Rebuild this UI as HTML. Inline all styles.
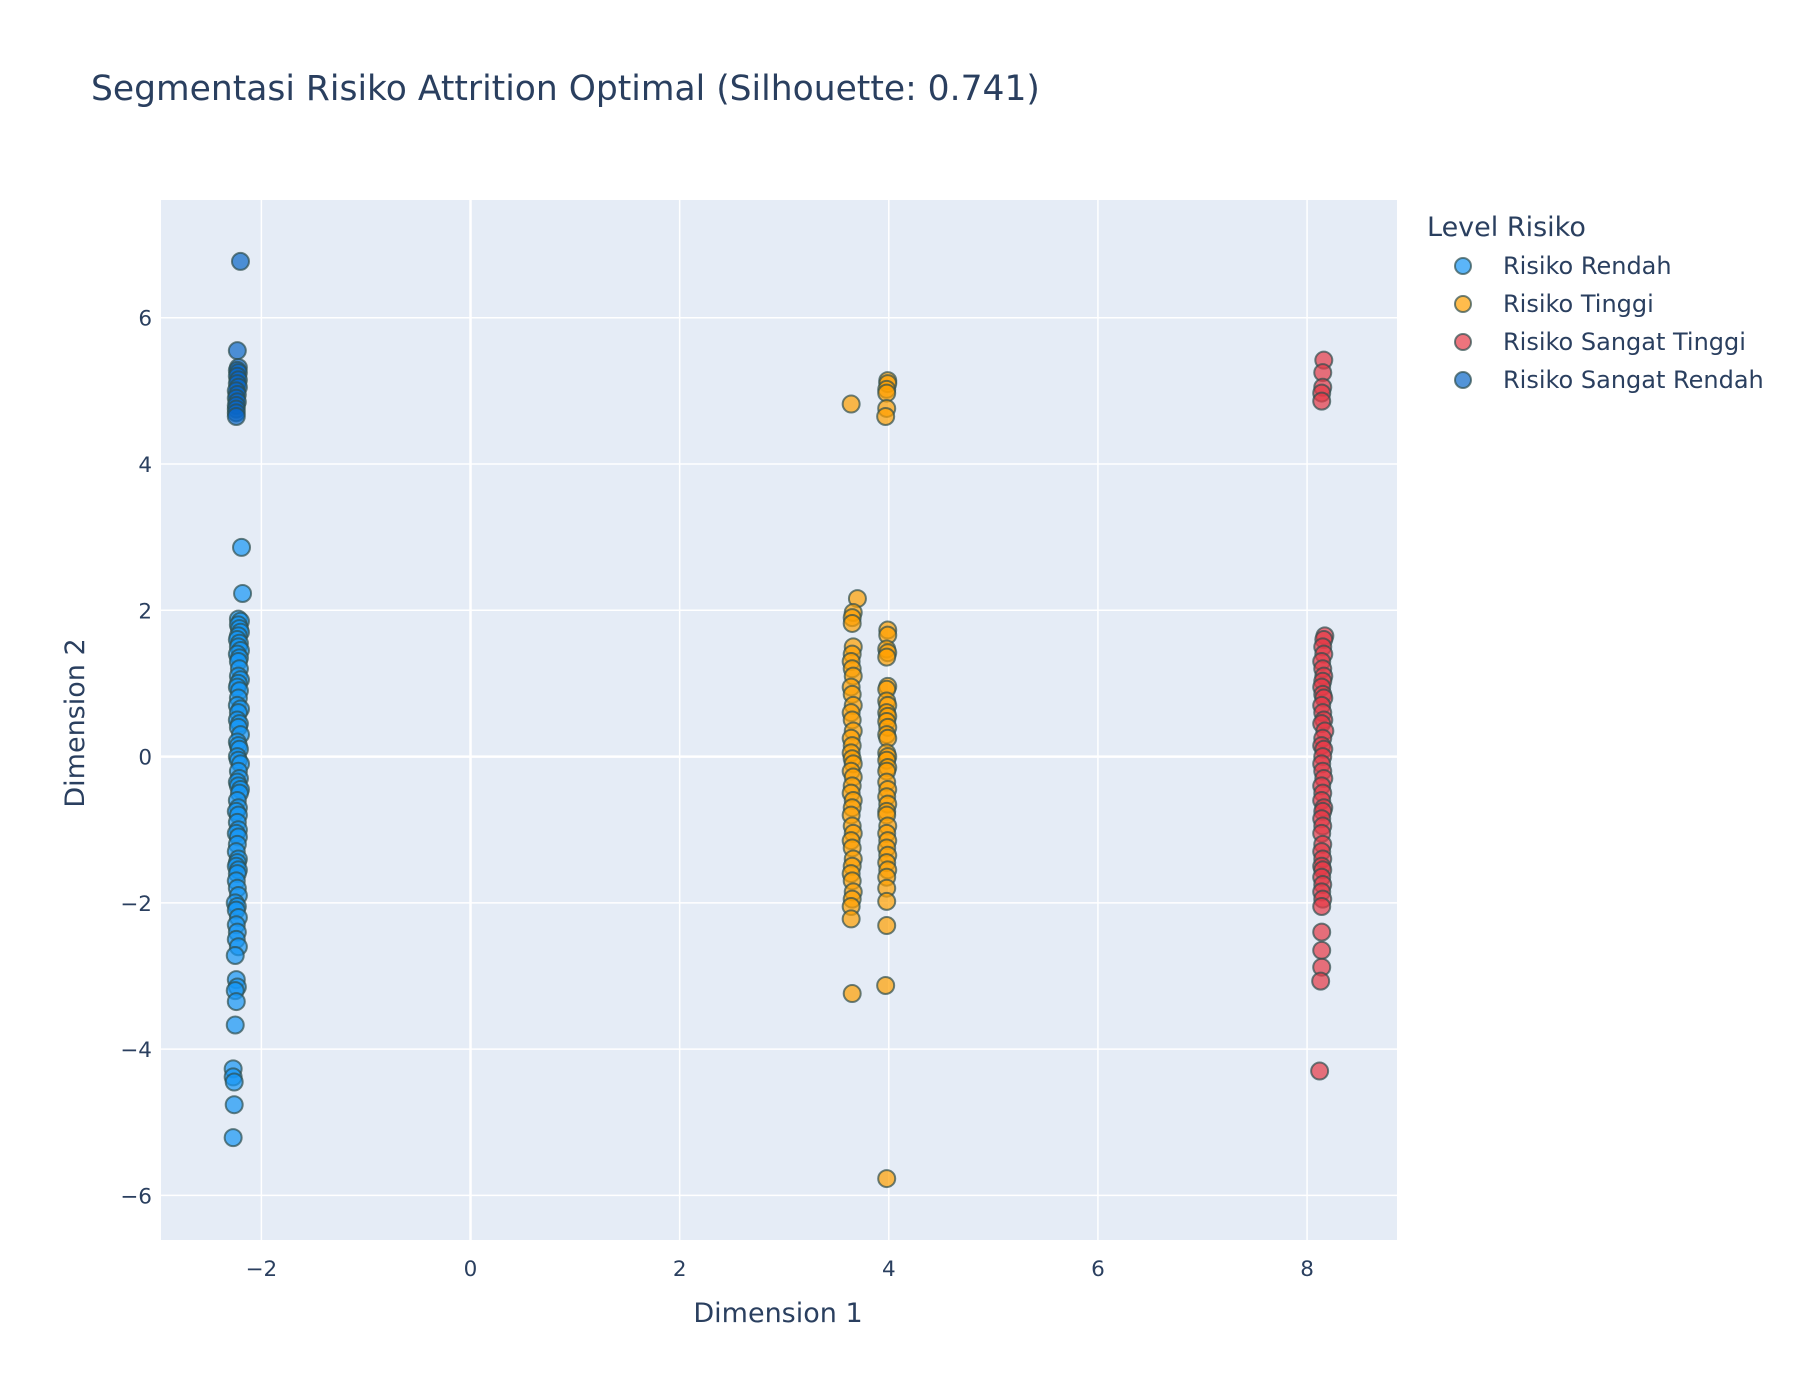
<!DOCTYPE html>
<html><head><meta charset="utf-8"><style>
body{margin:0;background:#fff;}
svg{display:block;font-family:"DejaVu Sans","Liberation Sans",sans-serif;}
</style></head><body>
<svg id="chart" width="1800" height="1400" xmlns="http://www.w3.org/2000/svg">
<rect x="0" y="0" width="1800" height="1400" fill="#fff"/>
<text x="91" y="100" font-size="34.5" fill="#2a3f5f">Segmentasi Risiko Attrition Optimal (Silhouette: 0.741)</text>
<rect x="161" y="200" width="1236" height="1040" fill="#e5ecf6"/>
<g id="grid"></g>
<g id="marks"></g>
<g id="ticks"></g>
<text x="778" y="1322" font-size="27" fill="#2a3f5f" text-anchor="middle">Dimension 1</text>
<text x="0" y="0" font-size="27" fill="#2a3f5f" text-anchor="middle" transform="translate(84,723) rotate(-90)">Dimension 2</text>
<text x="1427" y="236" font-size="27" fill="#2a3f5f">Level Risiko</text>
<g id="legend"></g>
</svg>
<script>
const xTicks=[-2,0,2,4,6,8];
const yTicks=[-6,-4,-2,0,2,4,6];
const seriesNames=["Risiko Rendah","Risiko Tinggi","Risiko Sangat Tinggi","Risiko Sangat Rendah"];
const seriesColors=["#1596f5","#ff9f00","#e63946","#0a66c8"];
const rendahY=[2.86,2.23,1.88,1.85,1.8,1.75,1.7,1.65,1.6,1.55,1.5,1.45,1.4,1.35,1.3,1.2,1.1,1.05,1.0,0.95,0.9,0.8,0.7,0.65,0.6,0.5,0.45,0.4,0.3,0.2,0.15,0.1,0.0,-0.05,-0.1,-0.2,-0.3,-0.35,-0.4,-0.45,-0.5,-0.6,-0.7,-0.75,-0.8,-0.9,-1.0,-1.05,-1.1,-1.2,-1.3,-1.4,-1.45,-1.5,-1.55,-1.6,-1.7,-1.8,-1.9,-2.0,-2.05,-2.1,-2.2,-2.3,-2.4,-2.5,-2.6,-2.72,-3.05,-3.15,-3.2,-3.35,-3.67,-4.27,-4.38,-4.45,-4.76,-5.21];
const rendahX=[-2.19,-2.18,-2.22,-2.2,-2.22,-2.21,-2.2,-2.22,-2.23,-2.21,-2.22,-2.2,-2.23,-2.21,-2.22,-2.21,-2.22,-2.2,-2.22,-2.23,-2.21,-2.22,-2.23,-2.2,-2.22,-2.23,-2.21,-2.22,-2.2,-2.23,-2.22,-2.21,-2.23,-2.22,-2.2,-2.22,-2.21,-2.23,-2.22,-2.2,-2.21,-2.23,-2.22,-2.24,-2.22,-2.23,-2.22,-2.24,-2.22,-2.23,-2.24,-2.22,-2.23,-2.24,-2.22,-2.23,-2.24,-2.23,-2.22,-2.25,-2.23,-2.24,-2.22,-2.24,-2.23,-2.24,-2.22,-2.25,-2.24,-2.23,-2.25,-2.24,-2.25,-2.27,-2.27,-2.26,-2.26,-2.27];
const tinggiY=[4.82,2.16,1.97,1.9,1.82,1.5,1.4,1.3,1.2,1.1,0.95,0.85,0.7,0.6,0.5,0.35,0.25,0.15,0.05,-0.03,-0.1,-0.2,-0.28,-0.4,-0.5,-0.6,-0.7,-0.8,-0.95,-1.05,-1.15,-1.25,-1.4,-1.5,-1.6,-1.7,-1.85,-1.95,-2.05,-2.22,-3.24,5.14,5.1,5.02,4.97,4.76,4.65,1.73,1.66,1.47,1.42,1.36,0.96,0.92,0.76,0.7,0.6,0.55,0.48,0.4,0.3,0.25,0.05,0.0,-0.05,-0.15,-0.2,-0.35,-0.45,-0.55,-0.65,-0.75,-0.8,-0.95,-1.05,-1.15,-1.25,-1.35,-1.45,-1.55,-1.65,-1.8,-1.98,-2.31,-3.13,-5.77];
const tinggiX=[3.64,3.7,3.66,3.65,3.65,3.66,3.65,3.64,3.65,3.66,3.64,3.65,3.66,3.64,3.65,3.66,3.64,3.65,3.64,3.65,3.66,3.64,3.66,3.65,3.64,3.66,3.65,3.64,3.65,3.66,3.64,3.65,3.66,3.65,3.64,3.65,3.66,3.65,3.64,3.64,3.65,3.99,3.99,3.98,3.98,3.98,3.97,3.99,3.99,3.98,3.99,3.98,3.99,3.98,3.98,3.99,3.98,3.99,3.98,3.99,3.98,3.99,3.98,3.99,3.98,3.99,3.98,3.98,3.99,3.98,3.99,3.98,3.98,3.99,3.98,3.99,3.98,3.99,3.98,3.99,3.98,3.98,3.98,3.98,3.97,3.98];
const sTinggiY=[5.42,5.25,5.05,4.97,4.86,1.65,1.6,1.5,1.4,1.3,1.2,1.1,1.03,0.95,0.85,0.8,0.7,0.6,0.5,0.45,0.35,0.25,0.15,0.1,0.0,-0.1,-0.2,-0.3,-0.4,-0.5,-0.6,-0.7,-0.75,-0.85,-0.95,-1.05,-1.2,-1.3,-1.4,-1.5,-1.55,-1.65,-1.75,-1.85,-1.95,-2.05,-2.4,-2.65,-2.88,-3.07,-4.3];
const sTinggiX=[8.16,8.15,8.15,8.14,8.14,8.17,8.16,8.15,8.16,8.14,8.15,8.16,8.15,8.14,8.15,8.16,8.14,8.15,8.16,8.14,8.17,8.15,8.14,8.16,8.15,8.14,8.15,8.16,8.14,8.15,8.14,8.16,8.15,8.14,8.15,8.14,8.15,8.14,8.15,8.14,8.15,8.14,8.15,8.14,8.15,8.14,8.14,8.14,8.14,8.13,8.12];
const sRendahY=[6.77,5.55,5.32,5.28,5.25,5.2,5.15,5.1,5.05,5.0,4.95,4.9,4.85,4.8,4.75,4.7,4.65];
const sRendahX=[-2.2,-2.23,-2.22,-2.23,-2.22,-2.23,-2.22,-2.23,-2.22,-2.24,-2.23,-2.24,-2.23,-2.24,-2.24,-2.24,-2.24];

const X0=161,X1=1397,Y0=200,Y1=1240,xmin=-2.96,xmax=8.86,ymin=-6.61,ymax=7.61;
function sx(v){return X0+(v-xmin)/(xmax-xmin)*(X1-X0);}
function sy(v){return Y1-(v-ymin)/(ymax-ymin)*(Y1-Y0);}
const NS="http://www.w3.org/2000/svg";
function mk(tag,attrs,parent){const e=document.createElementNS(NS,tag);for(const k in attrs)e.setAttribute(k,attrs[k]);parent.appendChild(e);return e;}
const grid=document.getElementById('grid'),ticks=document.getElementById('ticks'),marks=document.getElementById('marks'),legend=document.getElementById('legend');
xTicks.forEach(t=>{
  const l=mk('line',{x1:sx(t),x2:sx(t),y1:Y0,y2:Y1,stroke:'#fff','stroke-width':t===0?2.5:1.5},grid);
  
  
  const tx=mk('text',{x:sx(t),y:Y1+36,'font-size':21.5,fill:'#2a3f5f','text-anchor':'middle'},ticks);
  tx.textContent=String(t).replace('-','\u2212');
  
  
});
yTicks.forEach(t=>{
  const l=mk('line',{x1:X0,x2:X1,y1:sy(t),y2:sy(t),stroke:'#fff','stroke-width':t===0?2.5:1.5},grid);
  
  
  const tx=mk('text',{x:X0-9,y:sy(t)+8,'font-size':21.5,fill:'#2a3f5f','text-anchor':'end'},ticks);
  tx.textContent=String(t).replace('-','\u2212');
  
  
});
const sets=[[rendahX,rendahY],[tinggiX,tinggiY],[sTinggiX,sTinggiY],[sRendahX,sRendahY]];
const names=['point-risiko-rendah','point-risiko-tinggi','point-risiko-sangat-tinggi','point-risiko-sangat-rendah'];
sets.forEach((s,i)=>{
  s[1].forEach((y,j)=>{
    const c=mk('circle',{cx:sx(s[0][j]),cy:sy(y),r:8.5,fill:seriesColors[i],'fill-opacity':0.7,stroke:'#2F4F4F','stroke-opacity':0.7,'stroke-width':2},marks);
    
    
  });
});
seriesNames.forEach((n,i)=>{
  const y=266+i*38;
  const g=mk('g',{},legend);
  
  
  mk('circle',{cx:1463,cy:y,r:8,fill:seriesColors[i],'fill-opacity':0.7,stroke:'#2F4F4F','stroke-opacity':0.7,'stroke-width':2},g);
  const t=mk('text',{x:1503,y:y+8,'font-size':24,fill:'#2a3f5f'},g);
  t.textContent=n;
});
</script>
</body></html>
